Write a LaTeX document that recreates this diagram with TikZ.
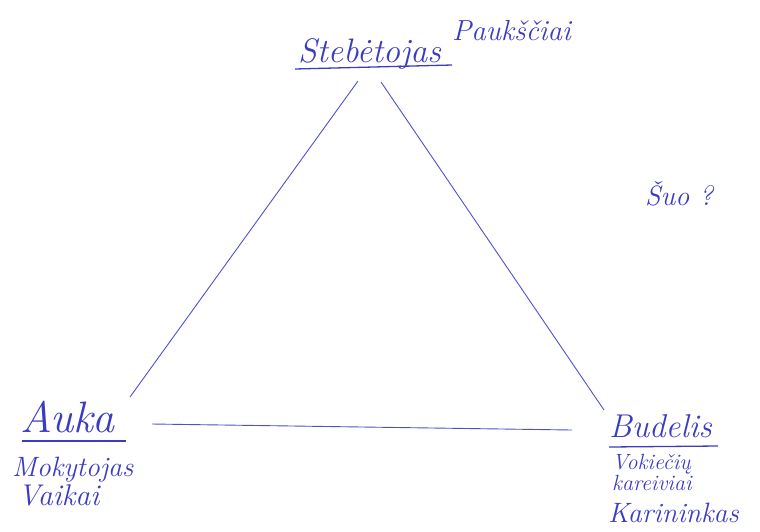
\documentclass[tikz,border=0pt]{standalone}
\usepackage{fontspec}
\definecolor{ink}{RGB}{60,60,195}
\definecolor{inkline}{RGB}{80,80,205}
\begin{document}
\begin{tikzpicture}[x=1pt,y=-1pt,
  lbl/.style={anchor=base west,inner sep=0pt,text=ink,font=\itshape},
  edge/.style={draw=inkline,line width=0.9pt},
  uline/.style={draw=ink,line width=1.3pt}]
\useasboundingbox (0,0) rectangle (760,531);
% labels
\node[lbl,font=\itshape\fontsize{34}{34}\selectfont] (steb) at (298,62) {Stebėtojas};
\node[lbl,font=\itshape\fontsize{29}{29}\selectfont] (pauk) at (452,40) {Paukščiai};
\node[lbl,font=\itshape\fontsize{28}{28}\selectfont] (suo) at (645,205) {Šuo ?};
\node[lbl,font=\itshape\fontsize{44}{44}\selectfont] (auka) at (20,432) {Auka};
\node[lbl,font=\itshape\fontsize{28}{28}\selectfont] (mok) at (12,476) {Mokytojas};
\node[lbl,font=\itshape\fontsize{30}{30}\selectfont] (vaik) at (18,505) {Vaikai};
\node[lbl,font=\itshape\fontsize{33}{33}\selectfont] (bud) at (609,437) {Budelis};
\node[lbl,font=\itshape\fontsize{22}{22}\selectfont] (vok) at (612,469) {Vokiečių};
\node[lbl,font=\itshape\fontsize{22}{22}\selectfont] (kar) at (612,490) {kareiviai};
\node[lbl,font=\itshape\fontsize{28}{28}\selectfont] (karin) at (608,522) {Karininkas};
% underlines
\coordinate (su1) at (295,69); \coordinate (su2) at (452,65);
\draw[uline] (su1) -- (su2);
\coordinate (au1) at (22,441); \coordinate (au2) at (126,441);
\draw[uline] (au1) -- (au2);
\coordinate (bu1) at (609,447); \coordinate (bu2) at (718,446);
\draw[uline] (bu1) -- (bu2);
% triangle ends
\coordinate (top1) at (358,81);
\coordinate (top2) at (381,82);
\coordinate (left1) at (130,397);
\coordinate (left2) at (152,424);
\coordinate (right1) at (604,410);
\coordinate (right2) at (572,430);
\draw[edge] (left1) -- (top1);
\draw[edge] (top2) -- (right1);
\draw[edge] (left2) -- (right2);
\end{tikzpicture}
\end{document}
